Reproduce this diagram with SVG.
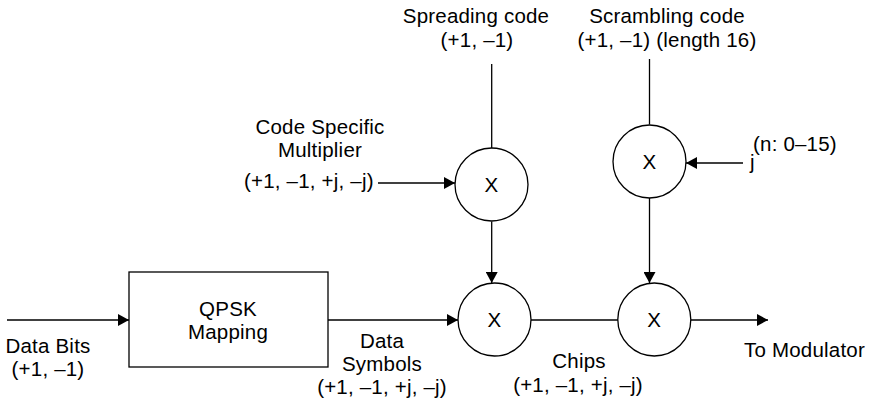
<svg xmlns="http://www.w3.org/2000/svg" width="869" height="403" viewBox="0 0 869 403">
  <defs>
    <marker id="arrow" markerUnits="userSpaceOnUse" markerWidth="12" markerHeight="12" refX="11" refY="6" orient="auto">
      <path d="M0,0 L11,6 L0,12 z" fill="#000"/>
    </marker>
    <style>
      text { font-family: "Liberation Sans", Arial, Helvetica, sans-serif; font-size: 20.5px; letter-spacing: 0.2px; fill: #000; }
      .c { text-anchor: middle; }
      .node { fill: #fff; stroke: #000; stroke-width: 1.3; }
      .wire { fill: none; stroke: #000; stroke-width: 1.3; }
      .arr { marker-end: url(#arrow); }
    </style>
  </defs>
  <rect width="869" height="403" fill="#fff"/>

  <!-- connectors -->
  <g id="connectors">
    <line class="wire" x1="491.7" y1="64" x2="491.7" y2="148.5"/>
    <line class="wire" x1="649.5" y1="59" x2="649.5" y2="124.5"/>
    <line class="wire arr" x1="378" y1="183" x2="455" y2="183"/>
    <line class="wire arr" x1="743" y1="163" x2="686" y2="163"/>
    <line class="wire arr" x1="491.7" y1="221.5" x2="491.7" y2="283"/>
    <line class="wire arr" x1="649.5" y1="198" x2="649.5" y2="283"/>
    <line class="wire arr" x1="7" y1="320" x2="129" y2="320"/>
    <line class="wire arr" x1="328" y1="320" x2="458" y2="320"/>
    <line class="wire" x1="531" y1="320" x2="618" y2="320"/>
    <line class="wire arr" x1="691" y1="320" x2="768" y2="320"/>
  </g>

  <!-- QPSK mapping block -->
  <g id="qpsk">
    <rect class="node" x="129" y="272" width="199" height="95"/>
    <text class="c" x="228" y="316">QPSK</text>
    <text class="c" x="228" y="339">Mapping</text>
  </g>

  <!-- multipliers -->
  <g id="mult-code">
    <circle class="node" cx="491.5" cy="184.5" r="36.5"/>
    <text class="c" x="491.5" y="191.5">X</text>
  </g>
  <g id="mult-scramble-j">
    <circle class="node" cx="649.5" cy="161.5" r="36.5"/>
    <text class="c" x="649.5" y="168.5">X</text>
  </g>
  <g id="mult-spread">
    <circle class="node" cx="494.5" cy="319.5" r="36.5"/>
    <text class="c" x="494.5" y="326.5">X</text>
  </g>
  <g id="mult-scramble">
    <circle class="node" cx="654.3" cy="319.5" r="36.5"/>
    <text class="c" x="654.3" y="326.5">X</text>
  </g>

  <!-- labels -->
  <g id="label-spreading">
    <text class="c" x="476" y="22.5">Spreading code</text>
    <text class="c" x="477" y="46.5">(+1, –1)</text>
  </g>
  <g id="label-scrambling">
    <text class="c" x="667" y="22.5">Scrambling code</text>
    <text class="c" x="667" y="46.5">(+1, –1) (length 16)</text>
  </g>
  <g id="label-multiplier">
    <text class="c" x="320" y="134">Code Specific</text>
    <text class="c" x="320" y="157">Multiplier</text>
    <text x="244" y="188">(+1, –1, +j, –j)</text>
  </g>
  <g id="label-j">
    <text x="750" y="169">j</text>
    <text x="753" y="151">(n: 0–15)</text>
  </g>
  <g id="label-databits">
    <text class="c" x="48" y="353">Data Bits</text>
    <text class="c" x="48" y="376">(+1, –1)</text>
  </g>
  <g id="label-symbols">
    <text class="c" x="382" y="348">Data</text>
    <text class="c" x="382" y="371">Symbols</text>
    <text class="c" x="382" y="394">(+1, –1, +j, –j)</text>
  </g>
  <g id="label-chips">
    <text class="c" x="579" y="368">Chips</text>
    <text class="c" x="578" y="392">(+1, –1, +j, –j)</text>
  </g>
  <g id="label-output">
    <text class="c" x="804.5" y="357">To Modulator</text>
  </g>
</svg>
